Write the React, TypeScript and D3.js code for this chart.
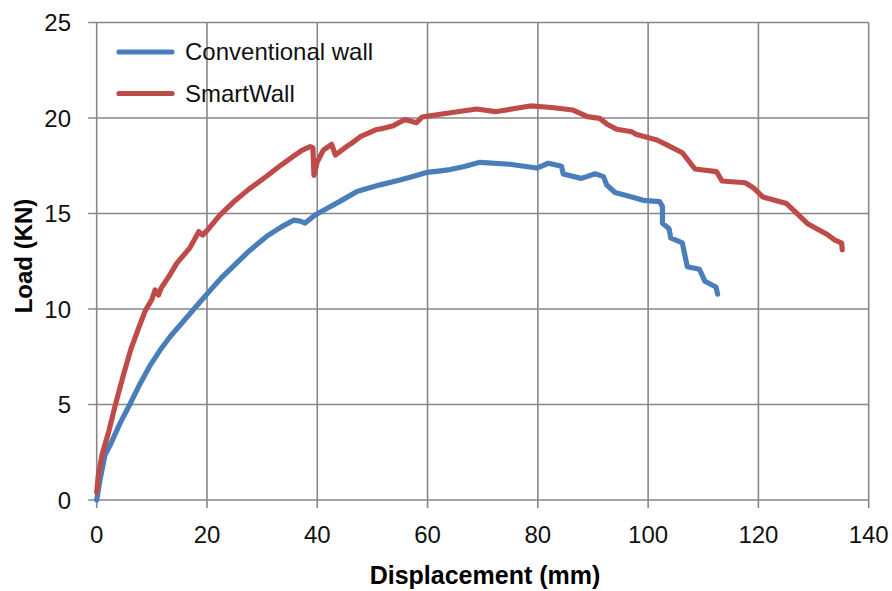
import React from "react";
import * as d3 from "d3";

// Load–displacement test results
const conventionalX = [0, 0.6, 1.5, 2.4, 4.2, 6.0, 7.8, 9.7, 11.5, 13.3, 15.1, 16.9, 18.7, 20.5, 22.5, 24.8, 27.5, 30.8, 33.5, 35.7, 36.9, 37.8, 39.6, 42, 44.5, 47.2, 49.5, 51.4, 55, 57.5, 59.8, 62, 64.1, 66.5, 69.5, 74.9, 79.8, 81.9, 84.3, 84.6, 87.9, 90.4, 91.9, 92.5, 94, 96.4, 99.1, 102.1, 102.6, 102.6, 103.8, 104.1, 106.2, 107.1, 109.3, 110.3, 112.3, 112.6];
const conventionalLoad = [0, 1.05, 2.36, 2.85, 4.0, 5.0, 6.05, 7.05, 7.85, 8.55, 9.15, 9.75, 10.35, 10.95, 11.6, 12.25, 13.0, 13.8, 14.3, 14.65, 14.6, 14.5, 14.92, 15.3, 15.7, 16.15, 16.35, 16.5, 16.75, 16.95, 17.15, 17.22, 17.3, 17.45, 17.68, 17.58, 17.38, 17.63, 17.47, 17.07, 16.84, 17.08, 16.93, 16.49, 16.1, 15.92, 15.69, 15.62, 15.36, 14.49, 14.2, 13.72, 13.46, 12.21, 12.08, 11.45, 11.15, 10.78];

const smartX = [0, 0.3, 1.0, 2.2, 3.4, 4.8, 6.2, 7.6, 8.8, 10.0, 10.6, 11.2, 11.7, 13.3, 14.5, 16.9, 18.5, 19.2, 20, 22.3, 24.8, 27.5, 30.8, 33.5, 35.7, 37.2, 38.7, 39.2, 39.4, 40.0, 41.1, 42.6, 43.3, 45.3, 46.2, 47.8, 50.8, 52, 53.8, 55.9, 58.0, 59.0, 62.9, 68.9, 72.3, 78.6, 82.5, 86.3, 89.0, 91.2, 92.5, 94.3, 97.0, 97.9, 101.6, 103.4, 106.2, 108.5, 112.4, 113.4, 117.6, 119.2, 120.8, 125.1, 126.5, 129.0, 132.5, 133.8, 135.1, 135.2];
const smartLoad = [0.4, 1.3, 2.4, 3.6, 5.0, 6.5, 7.9, 9.0, 9.9, 10.5, 11.0, 10.73, 11.1, 11.8, 12.39, 13.2, 14.05, 13.87, 14.1, 14.9, 15.6, 16.25, 16.95, 17.55, 18.0, 18.3, 18.5, 18.45, 17.0, 17.7, 18.32, 18.62, 18.06, 18.5, 18.67, 19.02, 19.4, 19.46, 19.6, 19.92, 19.75, 20.05, 20.22, 20.47, 20.33, 20.63, 20.55, 20.42, 20.07, 19.98, 19.69, 19.41, 19.28, 19.14, 18.85, 18.59, 18.18, 17.33, 17.19, 16.7, 16.61, 16.32, 15.87, 15.52, 15.14, 14.45, 13.9, 13.62, 13.45, 13.1];

const xTicks = [0, 20, 40, 60, 80, 100, 120, 140];
const yTicks = [0, 5, 10, 15, 20, 25];

const seriesNames = ["Conventional wall", "SmartWall"];
const seriesColors = ["#4a7ebb", "#be4b48"];

const W = 892;
const H = 591;
const left = 96.7;
const right = 868.7;
const top = 22.5;
const bottom = 500;

export default function App() {
  const x = d3.scaleLinear().domain([0, 140]).range([left, right]);
  const y = d3.scaleLinear().domain([0, 25]).range([bottom, top]);

  const line = d3
    .line<[number, number]>()
    .x((d) => x(d[0]))
    .y((d) => y(d[1]))
    .curve(d3.curveLinear);

  const series = [
    conventionalX.map((v, i) => [v, conventionalLoad[i]] as [number, number]),
    smartX.map((v, i) => [v, smartLoad[i]] as [number, number]),
  ];

  const gridColor = "#878787";
  const font = "'Liberation Sans', Arial, sans-serif";

  return (
    <svg
      width={W}
      height={H}
      style={{ position: "absolute", left: 0, top: 0, background: "#fff" }}
      fontFamily={font}
    >
      {/* grid + ticks */}
      {xTicks.map((t) => (
        <line key={"gx" + t} x1={x(t)} x2={x(t)} y1={top} y2={bottom + 8} stroke={gridColor} strokeWidth={1.6} />
      ))}
      {yTicks.map((t) => (
        <line key={"gy" + t} x1={left - 8.5} x2={right} y1={y(t)} y2={y(t)} stroke={gridColor} strokeWidth={1.6} />
      ))}

      {/* tick labels */}
      {xTicks.map((t) => (
        <text key={"tx" + t} x={x(t)} y={543} textAnchor="middle" fontSize={24} fill="#111">
          {t}
        </text>
      ))}
      {yTicks.map((t) => (
        <text key={"ty" + t} x={71} y={y(t) + 8.6} textAnchor="end" fontSize={24} fill="#111">
          {t}
        </text>
      ))}

      {/* series */}
      {series.map((s, i) => (
        <path
          key={"s" + i}
          d={line(s) || ""}
          fill="none"
          stroke={seriesColors[i]}
          strokeWidth={5.2}
          strokeLinejoin="round"
          strokeLinecap="round"
        />
      ))}

      {/* legend */}
      {seriesNames.map((name, i) => (
        <g key={"lg" + i}>
          <line
            x1={119}
            x2={172}
            y1={52 + i * 41.5}
            y2={52 + i * 41.5}
            stroke={seriesColors[i]}
            strokeWidth={5.2}
            strokeLinecap="round"
          />
          <text x={185} y={60 + i * 41.5} fontSize={24} fill="#111">
            {name}
          </text>
        </g>
      ))}

      {/* axis titles */}
      <text x={485} y={584} textAnchor="middle" fontSize={25} fontWeight="bold" fill="#000">
        Displacement (mm)
      </text>
      <text
        transform={`translate(31.5, 256) rotate(-90)`}
        textAnchor="middle"
        fontSize={24}
        fontWeight="bold"
        fill="#000"
      >
        Load (KN)
      </text>
    </svg>
  );
}
